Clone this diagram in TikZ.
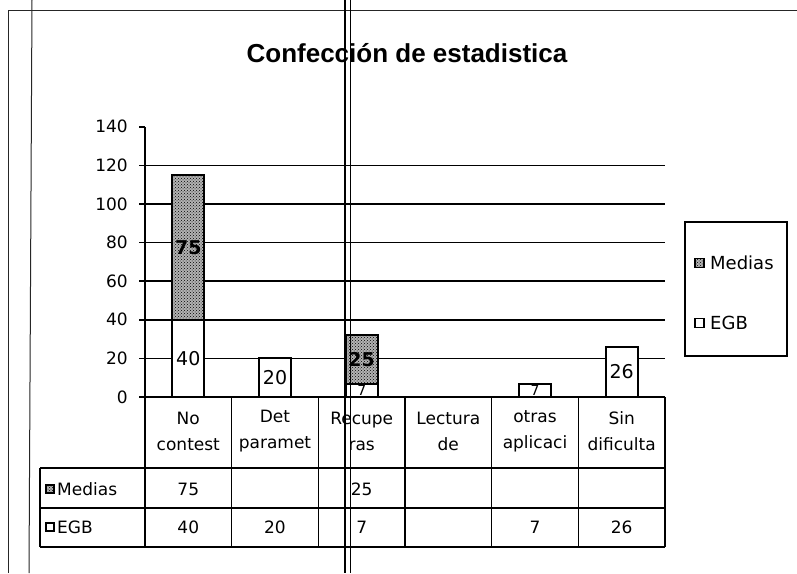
\documentclass[tikz,border=0pt]{standalone}
\usepackage{fontspec}
\setmainfont{DejaVu Sans}
\newfontfamily\titlefont{Liberation Sans}
\usetikzlibrary{patterns}
\tikzset{
  frameline/.style={line width=1pt, black!85},
  foldline/.style={line width=1.8pt, black},
  foldthin/.style={line width=0.9pt, black},
  gridl/.style={line width=1.6pt, black},
  axisl/.style={line width=1.6pt, black},
  tabl/.style={line width=1.2pt, black},
  titletext/.style={font=\titlefont\bfseries\fontsize{26}{30}\selectfont, inner sep=0pt},
  axlabel/.style={font=\fontsize{17}{20}\selectfont, inner sep=0pt, anchor=east},
  barlabel/.style={font=\fontsize{19}{22}\selectfont, inner sep=0pt},
  smalllabel/.style={font=\fontsize{14}{16}\selectfont, inner sep=0pt},
  celltext/.style={font=\fontsize{17}{26}\selectfont, inner sep=0pt, align=center},
  legtext/.style={font=\fontsize{18}{22}\selectfont, inner sep=0pt, anchor=west},
  egbbar/.style={draw=black, line width=2pt, fill=white},
  medbar/.style={draw=black, line width=2pt, fill=gray!60,
    postaction={pattern=crosshatch dots, pattern color=black}},
  medkey/.style={draw=black, line width=1.2pt, fill=gray!60, minimum size=8pt, inner sep=0pt,
    postaction={pattern=crosshatch dots, pattern color=black}},
  egbkey/.style={draw=black, line width=1.2pt, fill=white, minimum size=8pt, inner sep=0pt},
  legendbox/.style={draw=black, line width=1.2pt, minimum width=102pt, minimum height=134pt, inner sep=0pt},
}
\begin{document}
\begin{tikzpicture}[x=1pt,y=-1pt]
\useasboundingbox (0,0) rectangle (797,573);

% scanned frame lines
\draw[frameline] (8,573) -- (8,10) -- (797,10);
\draw[frameline] (32,0) -- (29,573);

% title
\node[titletext, anchor=base] (title) at (407,62) {Confección de estadistica};

% axis labels
\foreach \v in {0,20,40,60,80,100,120,140}
  \node[axlabel] (y\v) at (128,{397-1.93*\v}) {\v};

% grid lines
\draw[gridl] (139,126.8) -- (145,126.8);
\foreach \v in {20,40,60,80,100,120}
  \draw[gridl] (139,{397-1.93*\v}) -- (665,{397-1.93*\v});
\draw[axisl] (145,126.8) -- (145,397);
\draw[axisl] (139,397) -- (665,397);

% bars
% 1: No contest  EGB 40, Medias 75
\draw[egbbar] (172.3,397) rectangle (204.3,319.8);
\draw[medbar] (172.3,319.8) rectangle (204.3,175.05);
\node[barlabel] (b1e) at (188.3,358.4) {40};
\node[barlabel, font=\bfseries\fontsize{19}{22}\selectfont] (b1m) at (188.3,247.4) {75};
% 2: Det paramet EGB 20
\draw[egbbar] (259,397) rectangle (291,358.4);
\node[barlabel] (b2e) at (275,377.7) {20};
% 3: Recupe ras EGB 7, Medias 25
\draw[egbbar] (345.7,397) rectangle (377.7,383.5);
\draw[medbar] (345.7,383.5) rectangle (377.7,335.2);
\node[smalllabel] (b3e) at (361.7,390.5) {7};
\node[barlabel, font=\bfseries\fontsize{19}{22}\selectfont] (b3m) at (361.7,359.4) {25};
% 5: otras aplicaci EGB 7
\draw[egbbar] (519,397) rectangle (551,383.5);
\node[smalllabel] (b5e) at (535,390.5) {7};
% 6: Sin dificulta EGB 26
\draw[egbbar] (605.7,397) rectangle (637.7,346.8);
\node[barlabel] (b6e) at (621.7,371.9) {26};

% data table
\foreach \i in {0,...,6}
  \draw[tabl] ({145+86.667*\i},397) -- ({145+86.667*\i},547);
\draw[tabl] (40,468) -- (665,468);
\draw[tabl] (40,508) -- (665,508);
\draw[tabl] (40,547) -- (665,547);
\draw[tabl] (40,468) -- (40,547);

\node[celltext] (h1) at (188.3,431) {No\\contest};
\node[celltext] (h2) at (275,431) {Det\\paramet};
\node[celltext] (h3) at (361.7,431) {Recupe\\ras};
\node[celltext] (h4) at (448.3,431) {Lectura\\de};
\node[celltext] (h5) at (535,431) {otras\\aplicaci};
\node[celltext] (h6) at (621.7,431) {Sin\\dificulta};

\node[medkey] (rkm) at (50,489) {};
\node[celltext, anchor=west] (rm) at (57,489) {Medias};
\node[egbkey] (rke) at (50,527) {};
\node[celltext, anchor=west] (re) at (57,527) {EGB};

\node[celltext] (m1) at (188.3,489) {75};
\node[celltext] (m3) at (361.7,489) {25};
\node[celltext] (e1) at (188.3,527) {40};
\node[celltext] (e2) at (275,527) {20};
\node[celltext] (e3) at (361.7,527) {7};
\node[celltext] (e5) at (535,527) {7};
\node[celltext] (e6) at (621.7,527) {26};

% legend
\node[legendbox] (leg) at (736,289) {};
\node[medkey, minimum size=9pt] (lk1) at (699.5,263) {};
\node[legtext] (lt1) at (710,263) {Medias};
\node[egbkey, minimum size=9pt] (lk2) at (699.5,323) {};
\node[legtext] (lt2) at (710,323) {EGB};

% fold lines of the scan
\draw[foldline] (345,0) -- (345,573);
\draw[foldthin] (350.5,0) -- (350.5,573);
\end{tikzpicture}
\end{document}
